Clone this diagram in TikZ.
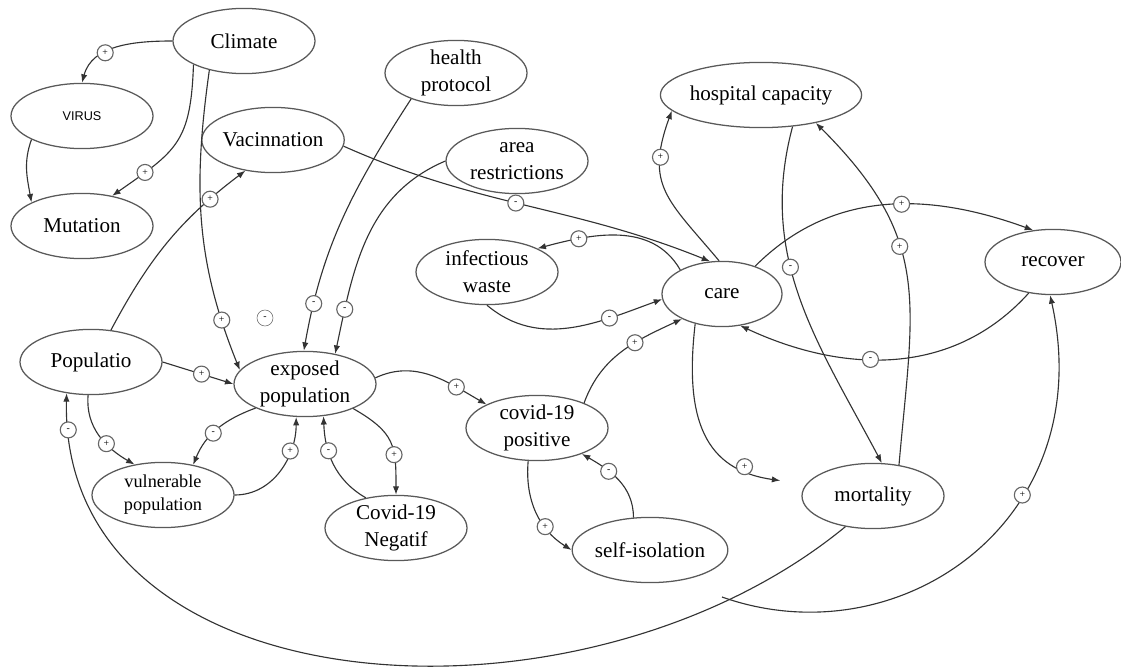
\documentclass[tikz,border=0pt]{standalone}
\usepackage{xcolor}
\usepackage{fontspec}
\setmainfont{Liberation Serif}
\newfontfamily\virfont{Liberation Sans}
\usepackage{tikz}
\usetikzlibrary{arrows.meta,shapes.geometric}

\begin{document}
\begin{tikzpicture}[
  el/.style={draw=black!65,line width=0.9pt,ellipse,align=center,inner sep=0pt,
             minimum width=3.55cm,minimum height=1.63cm,font=\fontsize{15}{19}\selectfont},
  sg/.style={circle,draw=black!60,fill=white,inner sep=0pt,minimum size=0.4cm,
             font=\fontsize{7}{7}\selectfont},
  lk/.style={draw=black!80,line width=0.8pt,-{Latex[length=6pt,width=4.5pt]}}]
  \useasboundingbox (0,0) rectangle (28.025,16.7);
  \node[el] (Cl) at (6.10,15.675) {Climate};
  \node[el,font=\virfont\fontsize{9}{10}\selectfont] (Vi) at (2.05,13.80) {VIRUS};
  \node[el] (Mu) at (2.05,11.05) {Mutation};
  \node[el] (Va) at (6.825,13.20) {Vacinnation};
  \node[el] (HP) at (11.40,14.875) {health\\protocol};
  \node[el] (AR) at (12.925,12.675) {area\\restrictions};
  \node[el,minimum width=4.05cm] (HC) at (19.025,14.325) {hospital capacity};
  \node[el] (IW) at (12.175,9.90) {infectious\\waste};
  \node[el,minimum width=3.0cm] (Ca) at (18.05,9.35) {care};
  \node[el,minimum width=3.4cm] (Re) at (26.325,10.15) {recover};
  \node[el] (Po) at (2.275,7.65) {Populatio};
  \node[el] (EP) at (7.625,7.10) {exposed\\population};
  \node[el,font=\fontsize{13}{16.5}\selectfont] (VP) at (4.075,4.325) {vulnerable\\population};
  \node[el] (CN) at (9.90,3.50) {Covid-19\\Negatif};
  \node[el] (CP) at (13.425,6.00) {covid-19\\positive};
  \node[el] (SI) at (16.25,2.95) {self-isolation};
  \node[el] (Mo) at (21.825,4.30) {mortality};
  \node[sg] (m0) at (6.625,8.75) {-};
  \coordinate (rs) at (18.05,1.775);
  \draw[lk] (Cl.west) to[out=180,in=75] node[sg,pos=0.62]{+} (Vi.north);
  \draw[lk] (Vi.205) to[out=250,in=100] (Mu.155);
  \draw[lk] (Cl.205) to[out=268,in=35,looseness=1.3] node[sg,pos=0.8]{+} (Mu.45);
  \draw[lk] (Cl.220) to[out=262,in=112] node[sg,pos=0.84]{+} (EP.168);
  \draw[lk] (Po.58) to[out=62,in=217] node[sg,pos=0.8]{+} (Va.228);
  \draw[lk] (Va.355) to[out=-24,in=158] node[sg,pos=0.47]{-} (Ca.110);
  \draw[lk] (HP.210) to[out=237,in=80] node[sg,pos=0.84]{-} (EP.92);
  \draw[lk] (AR.west) to[out=203,in=78] node[sg,pos=0.82]{-} (EP.45);
  \draw[lk] (Po.east) -- node[sg,pos=0.55]{+} (EP.west);
  \draw[lk] (Po.265) to[out=265,in=150] node[sg,pos=0.62]{+} (VP.133);
  \draw[lk] (EP.206) to[out=200,in=68] node[sg,pos=0.57]{-} (VP.45);
  \draw[lk] (VP.east) to[out=0,in=270] node[sg,pos=0.7]{+} (EP.255);
  \draw[lk] (CN.135) to[out=150,in=272] node[sg,pos=0.65]{-} (EP.300);
  \draw[lk] (EP.333) to[out=-30,in=90,looseness=1.3] node[sg,pos=0.65]{+} (CN.north);
  \draw[lk] (Mo.228) .. controls (14.5,-1.925) and (1.5,-1.05) .. node[sg,pos=0.96]{-} (Po.232);
  \draw[lk] (rs) .. controls (22.5,0.2) and (27.5,3.7) .. node[sg,pos=0.65]{+} (Re.265);
  \draw[lk] (Ca.40) to[out=45,in=160] node[sg,pos=0.56]{+} (Re.122);
  \draw[lk] (Re.232) to[out=228,in=335] node[sg,pos=0.58]{-} (Ca.300);
  \draw[lk] (Ca.95) to[out=130,in=250,looseness=1.3] node[sg,pos=0.75]{+} (HC.190);
  \draw[lk] (Ca.150) to[out=120,in=15] node[sg,pos=0.75]{+} (IW.25);
  \draw[lk] (IW.270) to[out=-40,in=200] node[sg,pos=0.72]{-} (Ca.185);
  \draw[lk] (CP.28) to[out=70,in=205] node[sg,pos=0.62]{+} (Ca.212);
  \draw[lk] (EP.5) to[out=25,in=150] node[sg,pos=0.73]{+} (CP.155);
  \draw[lk] (CP.255) to[out=265,in=148] node[sg,pos=0.67]{+} (SI.west);
  \draw[lk] (SI.117) to[out=90,in=330] node[sg,pos=0.65]{-} (CP.330);
  \draw[lk,shorten >=0.65cm] (Ca.228) .. controls (17.1,6.2) and (17.625,4.95) .. node[sg,pos=0.75]{+} (Mo.170);
  \draw[lk] (HC.315) to[out=255,in=118] node[sg,pos=0.4]{-} (Mo.75);
  \draw[lk] (Mo.50) to[out=85,in=-45,looseness=1.2] node[sg,pos=0.6]{+} (HC.333);
\end{tikzpicture}
\end{document}
